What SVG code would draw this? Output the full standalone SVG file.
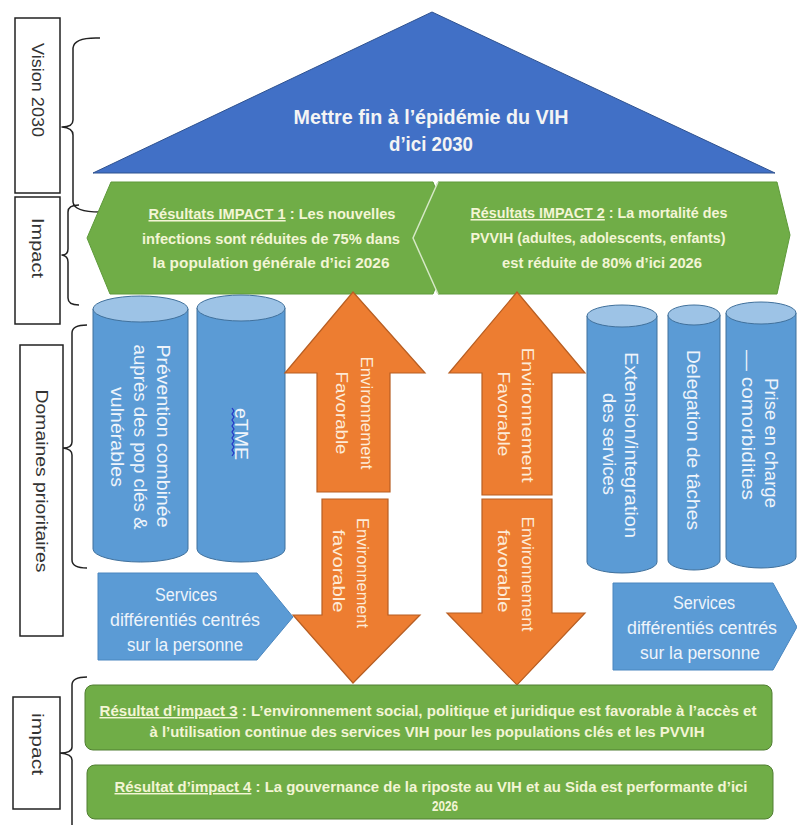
<svg xmlns="http://www.w3.org/2000/svg" width="797" height="825" viewBox="0 0 797 825">
<style>
text{font-family:"Liberation Sans",Arial,sans-serif}
.lbl{fill:#fff;stroke:#222;stroke-width:1.5}
.lt{font-size:16px;fill:#333}
.br{fill:none;stroke:#222;stroke-width:1.5;stroke-linejoin:round}
.roof{fill:#4170C6;stroke:#2F528F;stroke-width:1}
.rt{font-size:21px;font-weight:bold;fill:#F4F4F4}
.hex{fill:#70AD47;stroke:#5E9A3A;stroke-width:1;stroke-linejoin:round}
.gt{font-size:15.5px;font-weight:bold;fill:#F3F5D5}
.bt{font-size:14.5px;font-weight:bold;fill:#F3F5D5}
.box{fill:#70AD47;stroke:#507E32;stroke-width:1}
.cyl{fill:#5B9BD5;stroke:#41719C;stroke-width:1}
.cyltop{fill:#9DC3E6;stroke:#41719C;stroke-width:1}
.ct{font-size:17.5px;fill:#EEF4FB}
.arr{fill:#ED7D31;stroke:#B85E22;stroke-width:1.2;stroke-linejoin:miter}
.at{font-size:16px;fill:#FDEBD7}
.pent{fill:#5B9BD5;stroke:#4A86BF;stroke-width:1}
.st{font-size:17.5px;fill:#EEF4FB}
</style>

<g id="connectors">
  <path class="br" d="M100,38 Q74,37 73,48 L73,120 Q73,127 62,127 Q73,128 73,135 L73,202 Q74,212 100,212"/>
  <path class="br" d="M79,205 Q68,205 68,212 L68,249 Q68,255 62,255 Q68,256 68,262 L68,298 Q68,305 79,305"/>
  <path class="br" d="M87,325 Q72,325 72,333 L72,442 Q72,448 63,448 Q72,449 72,455 L72,560 Q72,568 87,568"/>
  <path class="br" d="M87,677 Q72,677 72,685 L72,747 Q72,753 60,753 Q72,754 72,760 L72,825"/>
</g>

<g id="label-vision">
  <rect class="lbl" x="15" y="18" width="45" height="175"/>
  <text class="lt" transform="translate(37,90) rotate(90)" text-anchor="middle" dominant-baseline="central" textLength="94" lengthAdjust="spacingAndGlyphs">Vision 2030</text>
</g>
<g id="label-impact1">
  <rect class="lbl" x="15" y="197" width="45" height="127"/>
  <text class="lt" transform="translate(37,248) rotate(90)" text-anchor="middle" dominant-baseline="central" textLength="60" lengthAdjust="spacingAndGlyphs">Impact</text>
</g>
<g id="label-domaines">
  <rect class="lbl" x="20" y="345" width="43" height="291"/>
  <text class="lt" transform="translate(41,481) rotate(90)" text-anchor="middle" dominant-baseline="central" textLength="183" lengthAdjust="spacingAndGlyphs">Domaines prioritaires</text>
</g>
<g id="label-impact2">
  <rect class="lbl" x="13" y="697" width="47" height="112"/>
  <text class="lt" transform="translate(37,744) rotate(90)" text-anchor="middle" dominant-baseline="central" textLength="62" lengthAdjust="spacingAndGlyphs">impact</text>
</g>

<g id="vision-roof">
  <polygon class="roof" points="93,173 432,12 775,173"/>
  <text class="rt" x="431" y="124" text-anchor="middle" textLength="275" lengthAdjust="spacingAndGlyphs">Mettre fin à l’épidémie du VIH</text>
  <text class="rt" x="431" y="151" text-anchor="middle" textLength="84" lengthAdjust="spacingAndGlyphs">d’ici 2030</text>
</g>

<g id="impact-1">
  <polygon class="hex" points="87,238 111,182 433,182 455,238 433,294 110,294"/>
  <text class="gt" x="272" y="219" text-anchor="middle" textLength="247" lengthAdjust="spacingAndGlyphs"><tspan text-decoration="underline">Résultats IMPACT 1</tspan> : Les nouvelles</text>
  <text class="gt" x="271" y="244" text-anchor="middle" textLength="258" lengthAdjust="spacingAndGlyphs">infections sont réduites de 75% dans</text>
  <text class="gt" x="271" y="268" text-anchor="middle" textLength="237" lengthAdjust="spacingAndGlyphs">la population générale d’ici 2026</text>
</g>

<g id="impact-2">
  <polygon class="hex" points="413,238 438,182 777,182 790,235 777,294 438,294"/>
  <path d="M438,182 L413,238 L438,294" fill="none" stroke="#D6E9C6" stroke-width="1.5"/>
  <text class="gt" x="599" y="218" text-anchor="middle" textLength="257" lengthAdjust="spacingAndGlyphs"><tspan text-decoration="underline">Résultats IMPACT 2</tspan> : La mortalité des</text>
  <text class="gt" x="598" y="243" text-anchor="middle" textLength="255" lengthAdjust="spacingAndGlyphs">PVVIH (adultes, adolescents, enfants)</text>
  <text class="gt" x="602" y="268" text-anchor="middle" textLength="200" lengthAdjust="spacingAndGlyphs">est réduite de 80% d’ici 2026</text>
</g>

<g id="cyl-prevention">
  <path class="cyl" d="M93,309 L93,549 A47.5,13 0 0 0 188,549 L188,309 Z"/>
  <ellipse class="cyltop" cx="140.5" cy="309" rx="47.5" ry="13"/>
  <text class="ct" transform="translate(163,436) rotate(90)" text-anchor="middle" dominant-baseline="central" textLength="183" lengthAdjust="spacingAndGlyphs">Prévention combinée</text>
  <text class="ct" transform="translate(140,437) rotate(90)" text-anchor="middle" dominant-baseline="central" textLength="185" lengthAdjust="spacingAndGlyphs">auprès des pop clés &amp;</text>
  <text class="ct" transform="translate(117,437) rotate(90)" text-anchor="middle" dominant-baseline="central" textLength="100" lengthAdjust="spacingAndGlyphs">vulnérables</text>
</g>

<g id="cyl-etme">
  <path class="cyl" d="M197,308 L197,549 A44,13 0 0 0 285,549 L285,308 Z"/>
  <ellipse class="cyltop" cx="241" cy="308" rx="44" ry="13"/>
  <text class="ct" transform="translate(241,434) rotate(90)" text-anchor="middle" dominant-baseline="central" textLength="52" lengthAdjust="spacingAndGlyphs">eTME</text>
  <path d="M232,408 l2,3 l-2,3 l2,3 l-2,3 l2,3 l-2,3 l2,3 l-2,3 l2,3 l-2,3 l2,3 l-2,3 l2,3 l-2,3 l2,3 l-2,3" fill="none" stroke="#2536C8" stroke-width="1.2"/>
</g>

<g id="cyl-extension">
  <path class="cyl" d="M587,316 L587,562 A35,11 0 0 0 657,562 L657,316 Z"/>
  <ellipse class="cyltop" cx="622" cy="316" rx="35" ry="11"/>
  <text class="ct" transform="translate(631,445) rotate(90)" text-anchor="middle" dominant-baseline="central" textLength="186" lengthAdjust="spacingAndGlyphs">Extension/integration</text>
  <text class="ct" transform="translate(609,444) rotate(90)" text-anchor="middle" dominant-baseline="central" textLength="102" lengthAdjust="spacingAndGlyphs">des services</text>
</g>

<g id="cyl-delegation">
  <path class="cyl" d="M668,315 L668,560 A26,10 0 0 0 720,560 L720,315 Z"/>
  <ellipse class="cyltop" cx="694" cy="315" rx="26" ry="10"/>
  <text class="ct" transform="translate(693,440) rotate(90)" text-anchor="middle" dominant-baseline="central" textLength="180" lengthAdjust="spacingAndGlyphs">Delegation de tâches</text>
</g>

<g id="cyl-priseencharge">
  <path class="cyl" d="M726,313 L726,557 A35,11 0 0 0 796,557 L796,313 Z"/>
  <ellipse class="cyltop" cx="761" cy="313" rx="35" ry="11"/>
  <text class="ct" transform="translate(771,443) rotate(90)" text-anchor="middle" dominant-baseline="central" textLength="130" lengthAdjust="spacingAndGlyphs">Prise en charge</text>
  <text class="ct" transform="translate(748,425) rotate(90)" text-anchor="middle" dominant-baseline="central" textLength="150" lengthAdjust="spacingAndGlyphs">— comorbidities</text>
</g>

<g id="arrow-up-1">
  <polygon class="arr" points="353,292 425,373 390,373 390,492 317,492 317,373 285,373"/>
  <text class="at" transform="translate(366,413) rotate(90)" text-anchor="middle" dominant-baseline="central" textLength="113" lengthAdjust="spacingAndGlyphs">Environnement</text>
  <text class="at" transform="translate(341,413) rotate(90)" text-anchor="middle" dominant-baseline="central" textLength="83" lengthAdjust="spacingAndGlyphs">Favorable</text>
</g>

<g id="arrow-up-2">
  <polygon class="arr" points="517,292 585,373 552,373 552,495 482,495 482,373 449,373"/>
  <text class="at" transform="translate(527,415) rotate(90)" text-anchor="middle" dominant-baseline="central" textLength="135" lengthAdjust="spacingAndGlyphs">Environnement</text>
  <text class="at" transform="translate(503,414) rotate(90)" text-anchor="middle" dominant-baseline="central" textLength="85" lengthAdjust="spacingAndGlyphs">Favorable</text>
</g>

<g id="arrow-down-1">
  <polygon class="arr" points="322,499 388,499 388,615 420,615 353,683 293,615 322,615"/>
  <text class="at" transform="translate(362,573) rotate(90)" text-anchor="middle" dominant-baseline="central" textLength="110" lengthAdjust="spacingAndGlyphs">Environnement</text>
  <text class="at" transform="translate(338,571) rotate(90)" text-anchor="middle" dominant-baseline="central" textLength="83" lengthAdjust="spacingAndGlyphs">favorable</text>
</g>

<g id="arrow-down-2">
  <polygon class="arr" points="482,499 552,499 552,613 585,613 517,685 447,613 482,613"/>
  <text class="at" transform="translate(527,574) rotate(90)" text-anchor="middle" dominant-baseline="central" textLength="115" lengthAdjust="spacingAndGlyphs">Environnement</text>
  <text class="at" transform="translate(503,571) rotate(90)" text-anchor="middle" dominant-baseline="central" textLength="83" lengthAdjust="spacingAndGlyphs">favorable</text>
</g>

<g id="services-left">
  <polygon class="pent" points="98,573 257,573 293,617 257,660 98,660"/>
  <text class="st" x="186" y="601" text-anchor="middle" textLength="62" lengthAdjust="spacingAndGlyphs">Services</text>
  <text class="st" x="185" y="626" text-anchor="middle" textLength="150" lengthAdjust="spacingAndGlyphs">différentiés centrés</text>
  <text class="st" x="185" y="651" text-anchor="middle" textLength="116" lengthAdjust="spacingAndGlyphs">sur la personne</text>
</g>

<g id="services-right">
  <polygon class="pent" points="613,583 773,583 797,627 773,670 613,670"/>
  <text class="st" x="704" y="609" text-anchor="middle" textLength="62" lengthAdjust="spacingAndGlyphs">Services</text>
  <text class="st" x="702" y="634" text-anchor="middle" textLength="150" lengthAdjust="spacingAndGlyphs">différentiés centrés</text>
  <text class="st" x="700" y="659" text-anchor="middle" textLength="120" lengthAdjust="spacingAndGlyphs">sur la personne</text>
</g>

<g id="impact-3">
  <rect class="box" x="85" y="685" width="687" height="65" rx="8"/>
  <text class="bt" x="428" y="716" text-anchor="middle" textLength="657" lengthAdjust="spacingAndGlyphs"><tspan text-decoration="underline">Résultat d’impact 3</tspan> : L’environnement social, politique et juridique est favorable à l’accès et</text>
  <text class="bt" x="427" y="737" text-anchor="middle" textLength="555" lengthAdjust="spacingAndGlyphs">à l’utilisation continue des services VIH pour les populations clés et les PVVIH</text>
</g>

<g id="impact-4">
  <rect class="box" x="87" y="765" width="686" height="54" rx="8"/>
  <text class="bt" x="431" y="792" text-anchor="middle" textLength="633" lengthAdjust="spacingAndGlyphs"><tspan text-decoration="underline">Résultat d’impact 4</tspan> : La gouvernance de la riposte au VIH et au Sida est performante d’ici</text>
  <text class="bt" x="432" y="811" textLength="26" lengthAdjust="spacingAndGlyphs">2026</text>
</g>
</svg>
